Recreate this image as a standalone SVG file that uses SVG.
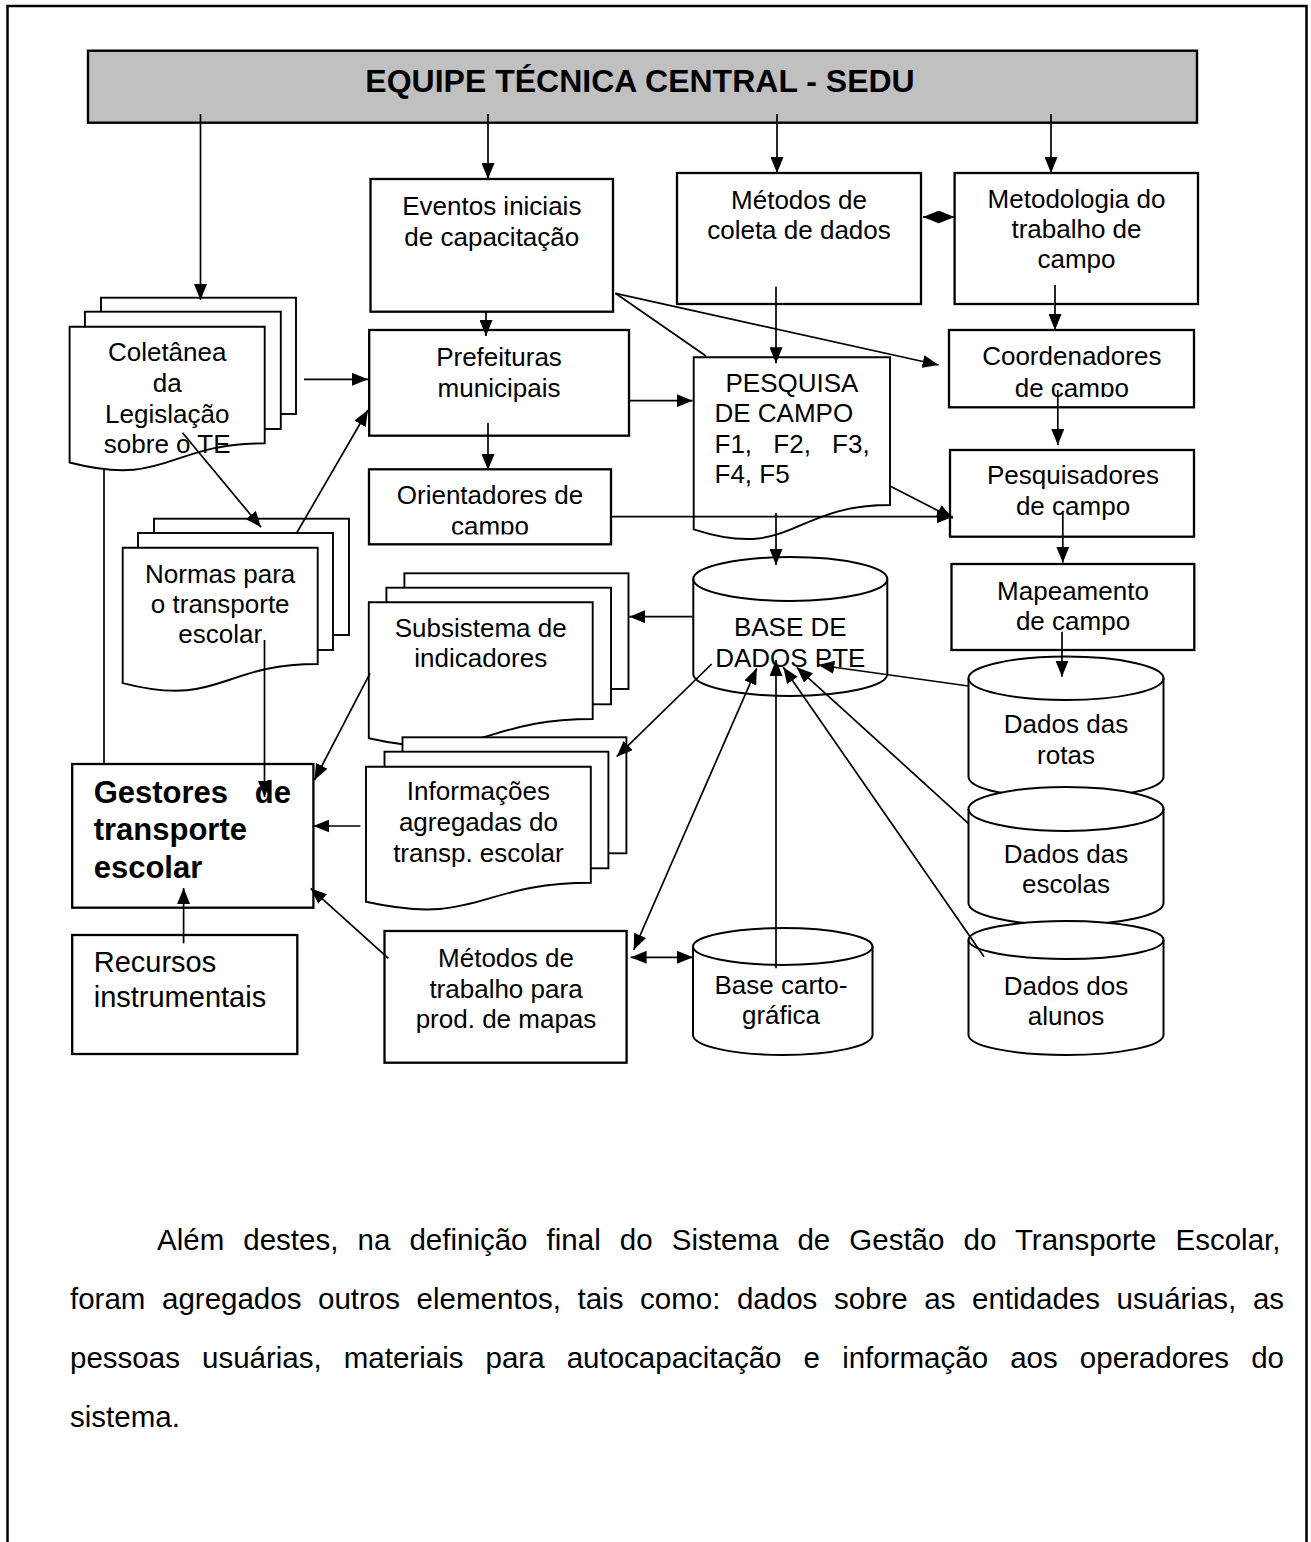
<svg xmlns="http://www.w3.org/2000/svg" width="1311" height="1542" viewBox="0 0 1311 1542">
<style>
.bg{fill:#ffffff}
.frame{fill:none;stroke:#000;stroke-width:2.5}
.box{fill:#fff;stroke:#000;stroke-width:2.3}
.hdr{fill:#c0c0c0;stroke:#000;stroke-width:2.4}
.doc{fill:#fff;stroke:#000;stroke-width:1.9}
.cyl{fill:#fff;stroke:#000;stroke-width:2}
.cylf{fill:none;stroke:#000;stroke-width:2}
.ln{fill:none;stroke:#000;stroke-width:1.7}
.ar{fill:none;stroke:#000;stroke-width:1.7;marker-end:url(#ah)}
.ar2{fill:none;stroke:#000;stroke-width:1.7;marker-start:url(#ah);marker-end:url(#ah)}
text{font-family:"Liberation Sans",Arial,sans-serif;fill:#000}
.t{font-size:26px;text-anchor:middle}
.tl{font-size:26px}
.h{font-size:32px;font-weight:bold;text-anchor:middle}
.b{font-size:31px;font-weight:bold}
.r{font-size:29px}
.p{font-size:29.5px}
</style>
<defs>
<marker id="ah" viewBox="0 0 16 13" refX="16" refY="6.5" markerWidth="16" markerHeight="13" markerUnits="userSpaceOnUse" orient="auto-start-reverse"><path d="M0,0 L16,6.5 L0,13 Z" fill="#000"/></marker>
<clipPath id="clipOri"><rect x="369" y="469" width="242" height="65.5"/></clipPath>
<clipPath id="clipCoo"><rect x="949" y="330" width="245" height="67"/></clipPath>
</defs>
<rect class="bg" x="0" y="0" width="1311" height="1542"/>
<path class="frame" d="M7.5,1542 V6 H1306.5 V1542"/>

<g id="header">
<rect class="hdr" x="88" y="50.7" width="1109" height="72"/>
<text class="h" x="640" y="91.7">EQUIPE TÉCNICA CENTRAL - SEDU</text>
</g>

<g id="eventos">
<rect class="box" x="370.5" y="179" width="242.5" height="132.7"/>
<text class="t" x="491.8" y="215">Eventos iniciais</text>
<text class="t" x="491.8" y="246">de capacitação</text>
</g>

<g id="metodos-coleta">
<rect class="box" x="677" y="173" width="244" height="131"/>
<text class="t" x="799" y="209">Métodos de</text>
<text class="t" x="799" y="239">coleta de dados</text>
</g>

<g id="metodologia">
<rect class="box" x="954.6" y="173" width="243.4" height="131"/>
<text class="t" x="1076.5" y="208">Metodologia do</text>
<text class="t" x="1076.5" y="238">trabalho de</text>
<text class="t" x="1076.5" y="268">campo</text>
</g>

<g id="coletanea">
<rect class="doc" x="101" y="297.7" width="195" height="116.3"/>
<rect class="doc" x="84.9" y="311.7" width="195.9" height="117.3"/>
<path class="doc" d="M69.6,326.7 H264.7 V443.3 C167.2,443.3 167.2,487.7 69.6,462.5 Z"/>
<text class="t" x="167.2" y="360.7">Coletânea</text>
<text class="t" x="167.2" y="391.7">da</text>
<text class="t" x="167.2" y="422.7">Legislação</text>
<text class="t" x="167.2" y="452.7">sobre o TE</text>
</g>

<g id="prefeituras">
<rect class="box" x="369.2" y="330" width="259.8" height="105.7"/>
<text class="t" x="499" y="366">Prefeituras</text>
<text class="t" x="499" y="396.7">municipais</text>
</g>

<g id="orientadores">
<rect class="box" x="369" y="469.3" width="242" height="75"/>
<g clip-path="url(#clipOri)">
<text class="t" x="490" y="504">Orientadores de</text>
<text class="t" x="490" y="534.5">campo</text>
</g>
</g>

<g id="pesquisa">
<path class="doc" d="M693.7,357.3 H890 V505 C791.85,505 791.85,561.2 693.7,529.3 Z"/>
<text class="t" x="792" y="391.7">PESQUISA</text>
<text class="tl" x="714.5" y="421.7">DE CAMPO</text>
<text class="tl" x="714.5" y="453.3" word-spacing="14">F1, F2, F3,</text>
<text class="tl" x="714.5" y="482.7">F4, F5</text>
</g>

<g id="coordenadores">
<rect class="box" x="949" y="330" width="245" height="77.3"/>
<g clip-path="url(#clipCoo)">
<text class="t" x="1071.8" y="365">Coordenadores</text>
<text class="t" x="1071.8" y="396.5">de campo</text>
</g>
</g>

<g id="pesquisadores">
<rect class="box" x="950" y="450" width="244" height="86.7"/>
<text class="t" x="1073" y="484">Pesquisadores</text>
<text class="t" x="1073" y="515">de campo</text>
</g>

<g id="mapeamento">
<rect class="box" x="951.5" y="564" width="242.8" height="86"/>
<text class="t" x="1073" y="600">Mapeamento</text>
<text class="t" x="1073" y="630">de campo</text>
</g>

<g id="normas">
<rect class="doc" x="154" y="518.7" width="195" height="116.3"/>
<rect class="doc" x="138" y="533" width="195" height="117"/>
<path class="doc" d="M122.7,547.7 H317.7 V664 C220.2,664 220.2,708.2 122.7,683.1 Z"/>
<text class="t" x="220.2" y="582.7">Normas para</text>
<text class="t" x="220.2" y="612.7">o transporte</text>
<text class="t" x="220.2" y="643">escolar</text>
</g>

<g id="subsistema">
<rect class="doc" x="404.4" y="573.3" width="224.1" height="115.7"/>
<rect class="doc" x="386.4" y="587.7" width="224.6" height="116.6"/>
<path class="doc" d="M368.8,602.3 H592.7 V719 C480.75,719 480.75,763.4 368.8,738.2 Z"/>
<text class="t" x="480.7" y="636.7">Subsistema de</text>
<text class="t" x="480.7" y="666.7">indicadores</text>
</g>

<g id="informacoes">
<rect class="doc" x="402.5" y="737.3" width="223.9" height="116"/>
<rect class="doc" x="384.5" y="751.7" width="223.9" height="116.6"/>
<path class="doc" d="M366,766.7 H590.8 V882.7 C478.4,882.7 478.4,926.8 366,901.8 Z"/>
<text class="t" x="478.4" y="800">Informações</text>
<text class="t" x="478.4" y="831">agregadas do</text>
<text class="t" x="478.4" y="861.7">transp. escolar</text>
</g>

<g id="base-dados">
<path class="cyl" d="M693.3,579 A97,22 0 0 1 887.3,579 V674 A97,22 0 0 1 693.3,674 Z"/>
<path class="cylf" d="M693.3,579 A97,22 0 0 0 887.3,579"/>
<text class="t" x="790.3" y="636">BASE DE</text>
<text class="t" x="790.3" y="666.7">DADOS PTE</text>
</g>

<g id="dados-rotas">
<path class="cyl" d="M968.5,678.3 A97.5,21.7 0 0 1 1163.5,678.3 V776.7 A97.5,21.7 0 0 1 968.5,776.7 Z"/>
<path class="cylf" d="M968.5,678.3 A97.5,21.7 0 0 0 1163.5,678.3"/>
<text class="t" x="1066" y="733.3">Dados das</text>
<text class="t" x="1066" y="764">rotas</text>
</g>

<g id="dados-escolas">
<path class="cyl" d="M968.5,809 A97.5,22 0 0 1 1163.5,809 V903 A97.5,22 0 0 1 968.5,903 Z"/>
<path class="cylf" d="M968.5,809 A97.5,22 0 0 0 1163.5,809"/>
<text class="t" x="1066" y="863.3">Dados das</text>
<text class="t" x="1066" y="893.3">escolas</text>
</g>

<g id="dados-alunos">
<path class="cyl" d="M968.5,940 A97.5,19 0 0 1 1163.5,940 V1035 A97.5,20 0 0 1 968.5,1035 Z"/>
<path class="cylf" d="M968.5,940 A97.5,19 0 0 0 1163.5,940"/>
<text class="t" x="1066" y="995">Dados dos</text>
<text class="t" x="1066" y="1025">alunos</text>
</g>

<g id="base-cartografica">
<path class="cyl" d="M693,946.5 A89.75,18.5 0 0 1 872.5,946.5 V1035 A89.75,20 0 0 1 693,1035 Z"/>
<path class="cylf" d="M693,946.5 A89.75,18.5 0 0 0 872.5,946.5"/>
<text class="t" x="781" y="994">Base carto-</text>
<text class="t" x="781" y="1024">gráfica</text>
</g>

<g id="gestores">
<rect class="box" x="72.2" y="764" width="241.2" height="143.7"/>
<text class="b" x="93.7" y="803.3">Gestores</text>
<text class="b" x="291" y="803.3" text-anchor="end">de</text>
<text class="b" x="93.7" y="840">transporte</text>
<text class="b" x="93.7" y="877.7">escolar</text>
</g>

<g id="recursos">
<rect class="box" x="72.2" y="935" width="225.1" height="119"/>
<text class="r" x="93.7" y="971.7">Recursos</text>
<text class="r" x="93.7" y="1006.7">instrumentais</text>
</g>

<g id="metodos-trabalho">
<rect class="box" x="384.5" y="931" width="242.1" height="131.7"/>
<text class="t" x="506" y="967.3">Métodos de</text>
<text class="t" x="506" y="998.3">trabalho para</text>
<text class="t" x="506" y="1028.3">prod. de mapas</text>
</g>

<g id="connectors">
<path class="ar" d="M200.5,114 V300"/>
<path class="ar" d="M488,114 V179"/>
<path class="ar" d="M777,114 V173"/>
<path class="ar" d="M1051,114 V173"/>
<path class="ar2" d="M923,217 H954.5"/>
<path class="ar" d="M486,311.7 V336"/>
<path class="ar" d="M304,379.3 H368"/>
<path class="ar" d="M182.5,432.7 L261,527.3"/>
<path class="ar" d="M296.5,533.3 L368,410"/>
<path class="ar" d="M488,423 V470"/>
<path class="ar" d="M629,400.7 H692.6"/>
<path class="ln" d="M615.4,293.3 L706,356"/>
<path class="ar" d="M615.4,293.3 L938.6,365"/>
<path class="ar" d="M776,286.7 V363.3"/>
<path class="ar" d="M1055,285 V330"/>
<path class="ar" d="M1057.8,390 V445"/>
<path class="ar" d="M890,486 L952.9,518.3"/>
<path class="ar" d="M611,516.7 H952.9"/>
<path class="ar" d="M1062.8,513 V562.7"/>
<path class="ar" d="M776,513 V565"/>
<path class="ar" d="M1062,631.7 V676.7"/>
<path class="ar" d="M692.7,616.7 H629.3"/>
<path class="ar" d="M711.7,664 L616.7,756.7"/>
<path class="ar" d="M968.3,686 L818.3,665"/>
<path class="ar" d="M968.3,823.3 L796.7,667.3"/>
<path class="ar" d="M984,956.7 L783.3,667.3"/>
<path class="ar" d="M776,968.3 V660"/>
<path class="ar2" d="M633.7,950 L756.7,668.3"/>
<path class="ar2" d="M630.6,957.3 H693"/>
<path class="ln" d="M104,470 V764"/>
<path class="ar" d="M264.5,640 V797"/>
<path class="ar" d="M370,673.3 L314.5,780"/>
<path class="ar" d="M360.4,826 H313.4"/>
<path class="ar" d="M388.4,958.3 L310.7,888.3"/>
<path class="ar" d="M183.6,943.3 V888"/>
</g>

<g id="paragraph">
<text class="p" x="157" y="1250" word-spacing="10.9">Além destes, na definição final do Sistema de Gestão do Transporte Escolar,</text>
<text class="p" x="70" y="1309" word-spacing="8.4">foram agregados outros elementos, tais como: dados sobre as entidades usuárias, as</text>
<text class="p" x="70" y="1368" word-spacing="13.9">pessoas usuárias, materiais para autocapacitação e informação aos operadores do</text>
<text class="p" x="70" y="1427">sistema.</text>
</g>
</svg>
